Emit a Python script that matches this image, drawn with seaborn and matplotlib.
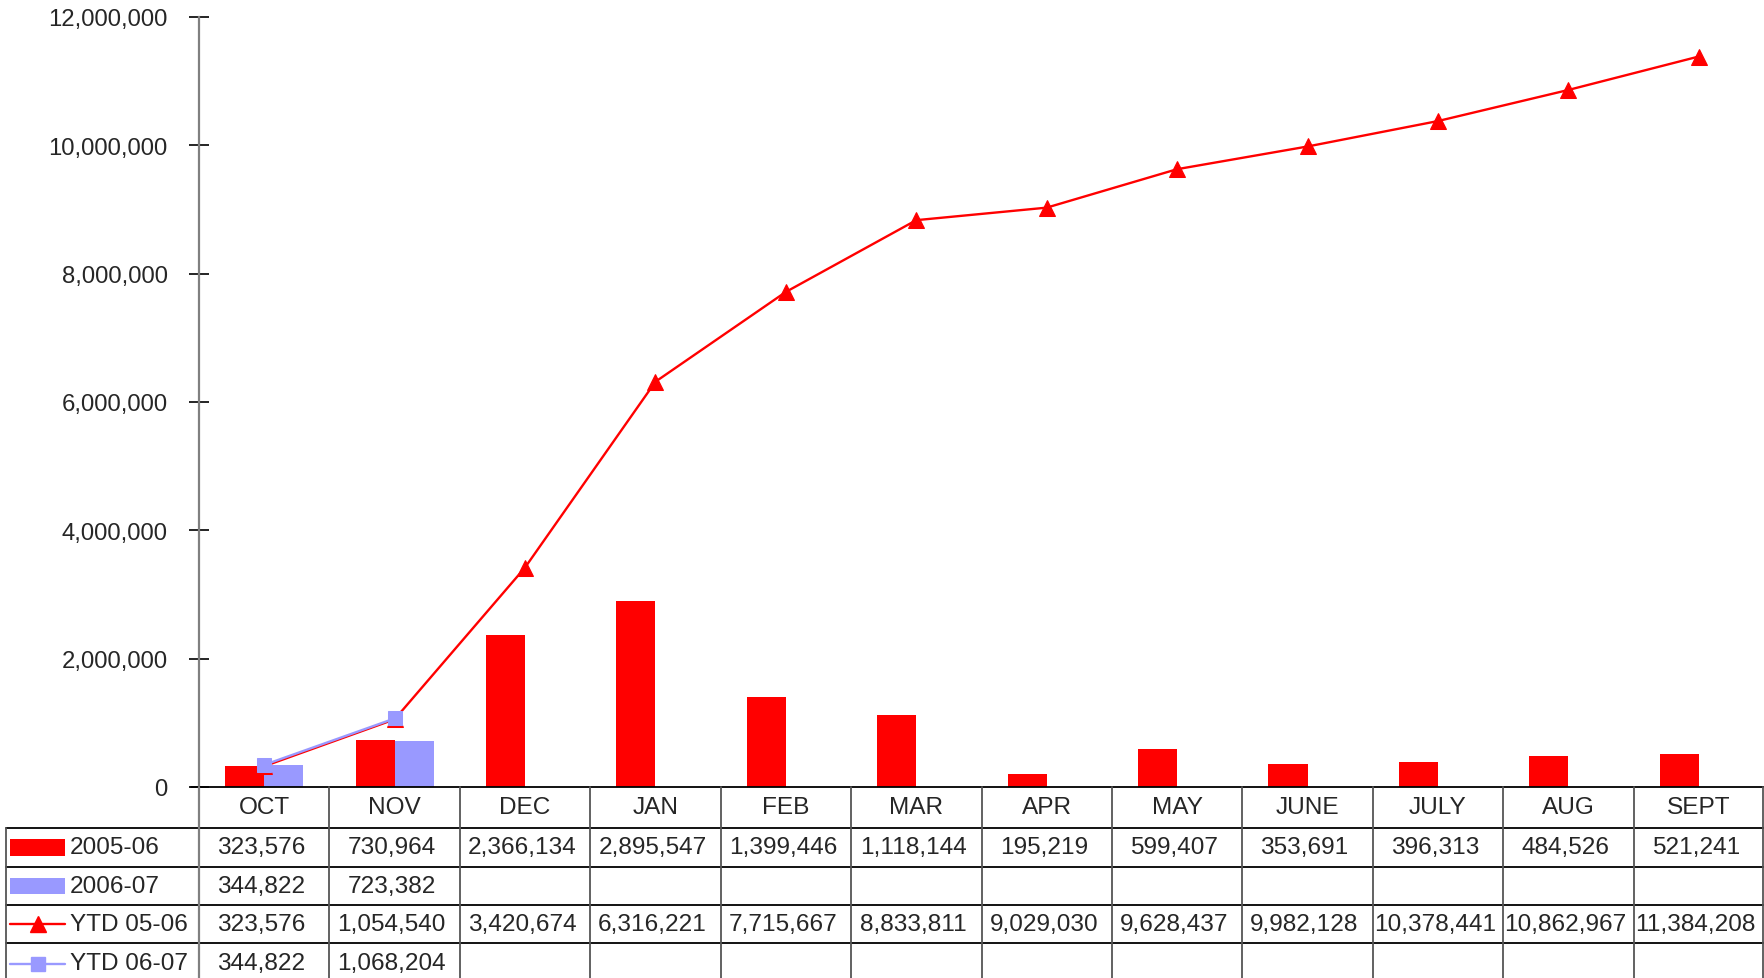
import numpy as np
import pandas as pd
import matplotlib
matplotlib.use("Agg")
import matplotlib.pyplot as plt
from matplotlib.lines import Line2D
from matplotlib.patches import Rectangle
import seaborn as sns

months = ["OCT", "NOV", "DEC", "JAN", "FEB", "MAR", "APR", "MAY", "JUNE", "JULY", "AUG", "SEPT"]
s0506 = [323576, 730964, 2366134, 2895547, 1399446, 1118144, 195219, 599407, 353691, 396313, 484526, 521241]
s0607 = [344822, 723382]
ytd0506 = [323576, 1054540, 3420674, 6316221, 7715667, 8833811, 9029030, 9628437, 9982128, 10378441, 10862967, 11384208]
ytd0607 = [344822, 1068204]
series_names = ["2005-06", "2006-07", "YTD 05-06", "YTD 06-07"]
yticks = [0, 2000000, 4000000, 6000000, 8000000, 10000000, 12000000]

RED = "#FF0000"
LAV = "#9999FF"

sns.set_theme(style="white")
plt.rcParams["font.family"] = ["Liberation Sans", "DejaVu Sans"]
FS = 17.2
TFS = 17.6

W, H = 1764, 979
fig = plt.figure(figsize=(W / 100, H / 100), dpi=100)
fig.patch.set_facecolor("white")

def fx(px):
    return px / W

def fy(py):
    return 1 - py / H

ax_left, ax_right, ax_top, ax_bot = 199, 1764, 18, 788
ax = fig.add_axes([fx(ax_left), fy(ax_bot), fx(ax_right) - fx(ax_left), fy(ax_top) - fy(ax_bot)])

rows = []
for i, m in enumerate(months):
    rows.append({"month": m, "series": "2005-06", "value": s0506[i]})
    rows.append({"month": m, "series": "2006-07", "value": s0607[i] if i < len(s0607) else np.nan})
df = pd.DataFrame(rows)

sns.barplot(data=df, x="month", y="value", hue="series", order=months,
            hue_order=["2005-06", "2006-07"], palette=[RED, LAV],
            width=0.6, gap=0, dodge=True, saturation=1, errorbar=None,
            linewidth=0, legend=False, ax=ax)

sns.lineplot(x=np.arange(len(ytd0506)), y=ytd0506, color=RED, marker="^",
             markersize=11, markeredgecolor=RED, linewidth=1.7, legend=False, ax=ax)
sns.lineplot(x=np.arange(len(ytd0607)), y=ytd0607, color=LAV, marker="s",
             markersize=10.5, markeredgecolor=LAV, linewidth=1.7, legend=False, ax=ax)

ax.set_xlim(-0.5, len(months) - 0.5)
ax.set_ylim(0, 12000000)
ax.set_yticks(yticks)
ax.set_yticklabels([f"{v:,}" for v in yticks], fontsize=FS)
ax.set_xticks([])
ax.set_xlabel("")
ax.set_ylabel("")
ax.tick_params(axis="y", direction="inout", length=15, width=1.2, color="black", pad=15, left=True)
for sp in ["top", "right", "bottom"]:
    ax.spines[sp].set_visible(False)
ax.spines["left"].set_color("#808080")
ax.spines["left"].set_linewidth(1.6)
ax.patch.set_alpha(0)

# ---- data table ----
ncol = len(months)
colw = (ax_right - ax_left) / ncol
xedges = [ax_left + i * colw for i in range(ncol + 1)]
row_edges = [788, 829, 868, 906, 944, 985]

def hline(y, x0, x1, color="black", lw=1.3):
    fig.add_artist(Line2D([fx(x0), fx(x1)], [fy(y), fy(y)], color=color, lw=lw, transform=fig.transFigure))

def vline(x, y0, y1, color="#555555", lw=1.3):
    fig.add_artist(Line2D([fx(x), fx(x)], [fy(y0), fy(y1)], color=color, lw=lw, transform=fig.transFigure))

hline(row_edges[0], 191, 1764)
for y in row_edges[1:5]:
    hline(y, 6, 1764)
vline(6, row_edges[1], 985)
vline(ax_left, row_edges[0], 985, color="#808080", lw=1.6)
for x in xedges[1:]:
    vline(min(x, 1763), row_edges[0], 985)

# header
for i, m in enumerate(months):
    cx = ax_left + (i + 0.5) * colw
    fig.text(fx(cx), fy((row_edges[0] + row_edges[1]) / 2), m, ha="center", va="center", fontsize=TFS)

table_rows = [s0506, s0607, ytd0506, ytd0607]
for r, vals in enumerate(table_rows):
    cy = (row_edges[r + 1] + row_edges[r + 2]) / 2
    for i, v in enumerate(vals):
        cx = ax_left + (i + 0.5) * colw - 3
        fig.text(fx(cx), fy(cy), f"{v:,}", ha="center", va="center", fontsize=TFS)
    fig.text(fx(70), fy(cy), series_names[r], ha="left", va="center", fontsize=TFS)

# legend keys
for r, col in enumerate([RED, LAV]):
    cy = (row_edges[r + 1] + row_edges[r + 2]) / 2
    fig.add_artist(Rectangle((fx(10), fy(cy + 8)), fx(65) - fx(10), fy(cy - 8) - fy(cy + 8),
                             facecolor=col, edgecolor="none", transform=fig.transFigure))
for r, (col, mk, ms) in enumerate([(RED, "^", 11), (LAV, "s", 10.5)]):
    cy = (row_edges[r + 3] + row_edges[r + 4]) / 2
    fig.add_artist(Line2D([fx(10), fx(65)], [fy(cy), fy(cy)], color=col, lw=1.7, transform=fig.transFigure))
    fig.add_artist(Line2D([fx(38)], [fy(cy)], color=col, marker=mk, markersize=ms,
                          markeredgecolor=col, transform=fig.transFigure))

fig.savefig("out.png", dpi=100, facecolor="white")
